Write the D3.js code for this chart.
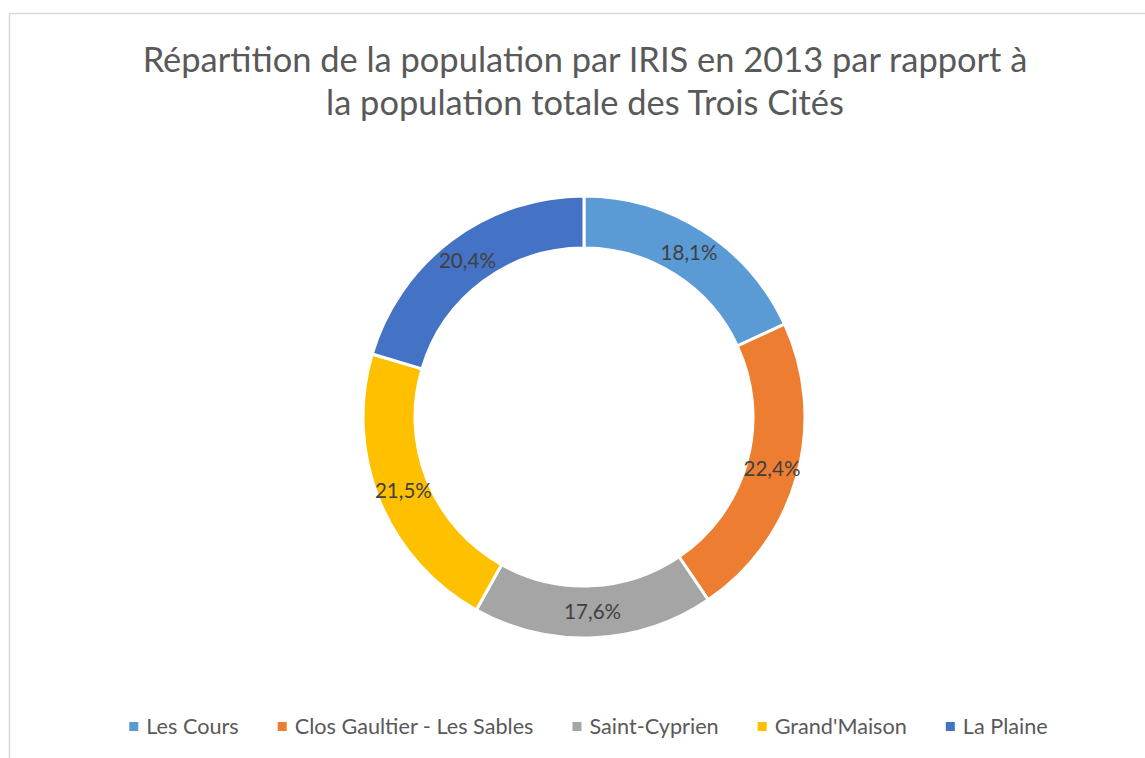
<!DOCTYPE html>
<html>
<head>
<meta charset="utf-8">
<script src="https://cdn.jsdelivr.net/npm/d3@7/dist/d3.min.js"></script>
<style>
  html, body { margin: 0; padding: 0; background: #fff; }
  svg { display: block; font-family: Lato, "Open Sans", sans-serif; }
</style>
</head>
<body>
<svg id="chart" width="1145" height="758"></svg>
<script>
const titleLines = ["Répartition de la population par IRIS en 2013 par rapport à", "la population totale des Trois Cités"];
const categories = ["Les Cours", "Clos Gaultier - Les Sables", "Saint-Cyprien", "Grand'Maison", "La Plaine"];
const values = [18.1, 22.4, 17.6, 21.5, 20.4];
const colors = ["#5B9BD5", "#ED7D31", "#A5A5A5", "#FFC000", "#4472C4"];

const svg = d3.select("#chart");

// chart frame
svg.append("rect")
  .attr("x", 9.5).attr("y", 13.5)
  .attr("width", 1200).attr("height", 800)
  .attr("fill", "#fff").attr("stroke", "#d9d9d9").attr("stroke-width", 1.5);

// title
const title = svg.append("text")
  .attr("text-anchor", "middle")
  .attr("fill", "#595959")
  .attr("font-size", 29);
titleLines.forEach((t, i) => {
  title.append("tspan").attr("x", 585).attr("y", 72 + i * 43).text(t);
});
const firstW = title.select("tspan").node().getComputedTextLength();
title.attr("font-size", 29 * 885 / firstW);

// donut
const cx = 584, cy = 417, rOuter = 221, rInner = 169;
const pie = d3.pie().sort(null).value(d => d.value);
const data = categories.map((c, i) => ({ name: c, value: values[i], color: colors[i] }));
const arcs = pie(data);
const arc = d3.arc().innerRadius(rInner).outerRadius(rOuter);
const labelArc = d3.arc().innerRadius(195).outerRadius(195);

const g = svg.append("g").attr("transform", `translate(${cx},${cy})`);
g.selectAll("path.slice")
  .data(arcs)
  .join("path")
  .attr("class", "slice")
  .attr("d", arc)
  .attr("fill", d => d.data.color)
  .attr("stroke", "#fff")
  .attr("stroke-width", 3);

const fmt = v => d3.format(".1f")(v).replace(".", ",") + "%";
const labels = g.selectAll("text.lbl")
  .data(arcs)
  .join("text")
  .attr("class", "lbl")
  .attr("transform", d => `translate(${labelArc.centroid(d)})`)
  .attr("text-anchor", "middle")
  .attr("dy", "0.35em")
  .attr("fill", "#404040")
  .attr("font-size", 18.5)
  .text(d => fmt(d.data.value));
const lw = labels.node().getComputedTextLength();
labels.attr("font-size", Math.min(22, 18.5 * 57 / lw));

// legend
const legendY = 726;
const legend = svg.append("g");
const items = legend.selectAll("g.item").data(data).join("g").attr("class", "item");
items.append("rect")
  .attr("width", 9).attr("height", 9)
  .attr("y", legendY - 4)
  .attr("fill", d => d.color);
const ltext = items.append("text")
  .attr("x", 17)
  .attr("y", legendY)
  .attr("dy", "0.35em")
  .attr("fill", "#595959")
  .attr("font-size", 18.5)
  .text(d => d.name);
const gap = 39;
let textSum = 0;
ltext.each(function() { textSum += this.getComputedTextLength(); });
const avail = (1048 - 129) - 17 * data.length - gap * (data.length - 1);
const lfs = Math.min(22, 18.5 * avail / textSum);
ltext.attr("font-size", lfs);
let widths = [];
ltext.each(function() { widths.push(this.getComputedTextLength() + 17); });
const total = d3.sum(widths) + gap * (widths.length - 1);
let x = 129 + (1048 - 129 - total) / 2;
items.attr("transform", (d, i) => {
  const t = `translate(${x},0)`;
  x += widths[i] + gap;
  return t;
});
</script>
</body>
</html>
